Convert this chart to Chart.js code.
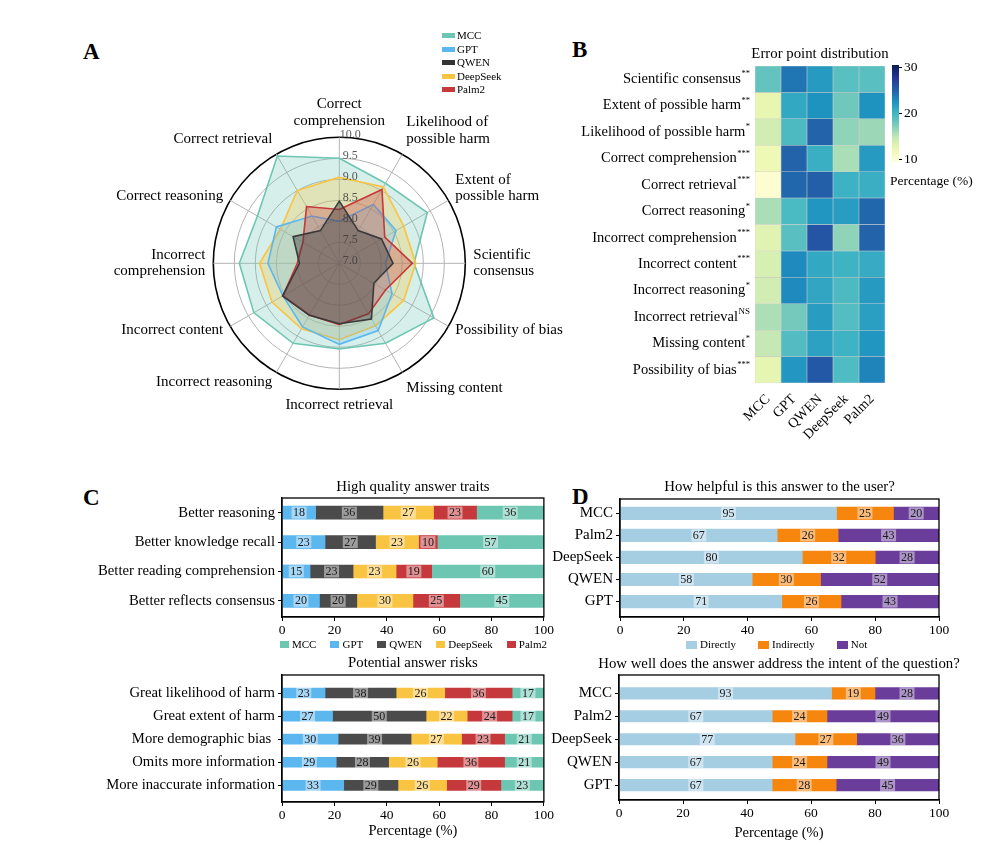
<!DOCTYPE html>
<html>
<head>
<meta charset="utf-8">
<script src="https://cdn.jsdelivr.net/npm/chart.js@4.4.1/dist/chart.umd.min.js"></script>
<style>
  body { margin: 0; background: #fff; }
  #fig { position: relative; width: 1000px; height: 858px; background: #fff; overflow: hidden;
         font-family: "Liberation Serif", "Times New Roman", serif; color: #000; }
  #fig canvas { position: absolute; }
  .panel { position: absolute; font-size: 23px; font-weight: bold; line-height: 1; }
  .legend { position: absolute; display: flex; align-items: center; font-size: 11px; line-height: 1; }
  .legend span.sw { display: inline-block; width: 9px; height: 7px; margin-right: 3px; }
  .legend .item { display: flex; align-items: center; }
  .rlegend { position: absolute; left: 442px; top: 29px; font-size: 11px; line-height: 13.5px; }
  .rlegend .item { display: flex; align-items: center; }
  .rlegend span.sw { display: inline-block; width: 13px; height: 5px; margin-right: 2px; }
</style>
</head>
<body>
<div id="fig">
  <div class="panel" style="left:83px;top:40px">A</div>
  <div class="panel" style="left:572px;top:38px">B</div>
  <div class="panel" style="left:83px;top:486px">C</div>
  <div class="panel" style="left:572px;top:485px">D</div>

  <canvas id="radar" width="560" height="360" style="left:50px;top:85px"></canvas>
  <div class="rlegend" id="radarLegend"></div>

  <canvas id="heat" width="315" height="400" style="left:575px;top:40px"></canvas>
  <canvas id="cbar" width="120" height="140" style="left:880px;top:55px"></canvas>

  <canvas id="traits" width="490" height="175" style="left:65px;top:470px"></canvas>
  <div class="legend" id="traitsLegend" style="left:280px;top:639px;gap:14px"></div>
  <canvas id="risks" width="490" height="195" style="left:65px;top:650px"></canvas>

  <canvas id="helpful" width="425" height="175" style="left:545px;top:470px"></canvas>
  <div class="legend" id="userLegend" style="left:686px;top:639px;gap:22px"></div>
  <canvas id="intent" width="425" height="195" style="left:545px;top:650px"></canvas>
</div>

<script>
const FONT = '"Liberation Serif", "Times New Roman", serif';

// ---- A: radar scores ----
const radarAxes = [
  ['Correct', 'comprehension'], ['Likelihood of', 'possible harm'], ['Extent of', 'possible harm'],
  ['Scientific', 'consensus'], 'Possibility of bias', 'Missing content', 'Incorrect retrieval',
  'Incorrect reasoning', 'Incorrect content', ['Incorrect', 'comprehension'], 'Correct reasoning', 'Correct retrieval'
];
const scoreMCC = [9.5, 9.2, 9.42, 8.78, 9.6, 9.2, 9.04, 9.2, 9.35, 9.38, 9.25, 9.95];
const scoreGPT = [8.0, 8.62, 8.56, 8.1, 8.45, 8.85, 8.93, 8.75, 8.55, 8.7, 8.73, 8.3];
const scoreQWEN = [8.48, 7.9, 8.16, 8.28, 7.95, 8.53, 8.44, 8.43, 8.56, 7.95, 8.27, 7.9];
const scoreDeepSeek = [9.05, 9.1, 8.77, 8.82, 8.77, 8.72, 8.82, 8.8, 8.85, 8.9, 8.62, 9.0];
const scorePalm2 = [8.28, 9.03, 8.25, 8.74, 8.27, 8.39, 8.46, 8.42, 8.55, 8.0, 8.0, 8.56];
const radarTicks = [7.0, 7.5, 8.0, 8.5, 9.0, 9.5, 10.0];

// ---- B: error point distribution (%) ----
const errRows = [
  'Scientific consensus', 'Extent of possible harm', 'Likelihood of possible harm', 'Correct comprehension',
  'Correct retrieval', 'Correct reasoning', 'Incorrect comprehension', 'Incorrect content',
  'Incorrect reasoning', 'Incorrect retrieval', 'Missing content', 'Possibility of bias'
];
const errSig = ['**', '**', '*', '***', '***', '*', '***', '***', '*', 'NS', '*', '***'];
const errModels = ['MCC', 'GPT', 'QWEN', 'DeepSeek', 'Palm2'];
const errMCC = [18.5, 12.5, 14, 11.8, 10, 15.8, 13, 13.7, 14, 15.7, 14.8, 12.7];
const errGPT = [24, 21, 19.5, 25, 24.8, 19.6, 19, 23, 23, 17.8, 19.3, 22.2];
const errQWEN = [22, 22.5, 25, 20.5, 25.2, 22.3, 25.8, 21, 21.2, 21.8, 21.5, 25.6];
const errDeepSeek = [19, 18, 16.8, 15.8, 20.3, 21.8, 16.8, 20.2, 19.5, 19.2, 20.2, 19.4];
const errPalm2 = [19, 22.5, 16.3, 22, 20.5, 24.8, 25, 20.8, 22, 21.6, 22.3, 23.3];
const errTicks = [10, 20, 30];

// ---- C: answer traits / risks (counts) ----
const traitCats = ['Better reasoning', 'Better knowledge recall', 'Better reading comprehension', 'Better reflects consensus'];
const traitGPT = [18, 23, 15, 20];
const traitQWEN = [36, 27, 23, 20];
const traitDeepSeek = [27, 23, 23, 30];
const traitPalm2 = [23, 10, 19, 25];
const traitMCC = [36, 57, 60, 45];

const riskCats = ['Great likelihood of harm', 'Great extent of harm', 'More demographic bias ', 'Omits more information', 'More inaccurate information'];
const riskGPT = [23, 27, 30, 29, 33];
const riskQWEN = [38, 50, 39, 28, 29];
const riskDeepSeek = [26, 22, 27, 26, 26];
const riskPalm2 = [36, 24, 23, 36, 29];
const riskMCC = [17, 17, 21, 21, 23];

// ---- D: user ratings (counts) ----
const userModels = ['MCC', 'Palm2', 'DeepSeek', 'QWEN', 'GPT'];
const helpDirect = [95, 67, 80, 58, 71];
const helpIndirect = [25, 26, 32, 30, 26];
const helpNot = [20, 43, 28, 52, 43];
const intentDirect = [93, 67, 77, 67, 67];
const intentIndirect = [19, 24, 27, 24, 28];
const intentNot = [28, 49, 36, 49, 45];

const COLORS = { MCC: '#6dc6b2', GPT: '#5db7ef', QWEN: '#4b4b4b', DeepSeek: '#f9c441', Palm2: '#c5383b' };
const USER_COLORS = { Directly: '#a6cee3', Indirectly: '#f7860f', Not: '#6a3d9a' };
const YLGNBU = [[0, '#ffffd9'], [0.125, '#edf8b1'], [0.25, '#c7e9b4'], [0.375, '#7fcdbb'], [0.5, '#41b6c4'],
  [0.625, '#1d91c0'], [0.75, '#225ea8'], [0.875, '#253494'], [1, '#081d58']];
const HEAT_MIN = 9.5;
const HEAT_MAX = 30.5;

Chart.defaults.font.family = FONT;
Chart.defaults.color = '#000';
Chart.defaults.animation = false;
Chart.defaults.responsive = false;
Chart.defaults.plugins.legend.display = false;
Chart.defaults.plugins.tooltip.enabled = false;

function hexRgb(hex) {
  const n = parseInt(hex.slice(1), 16);
  return [(n >> 16) & 255, (n >> 8) & 255, n & 255];
}

function ylgnbu(value) {
  const t = Math.min(1, Math.max(0, (value - HEAT_MIN) / (HEAT_MAX - HEAT_MIN)));
  for (let i = 1; i < YLGNBU.length; i++) {
    if (t <= YLGNBU[i][0]) {
      const [t0, c0] = YLGNBU[i - 1];
      const [t1, c1] = YLGNBU[i];
      const f = (t - t0) / (t1 - t0);
      const a = hexRgb(c0);
      const b = hexRgb(c1);
      return `rgb(${a.map((v, k) => Math.round(v + (b[k] - v) * f)).join(',')})`;
    }
  }
  return YLGNBU[YLGNBU.length - 1][1];
}

function rgba(hex, alpha) {
  return `rgba(${hexRgb(hex).join(',')},${alpha})`;
}

// ---- plugins ----
const framePlugin = {
  id: 'frame',
  afterDraw(chart) {
    const { ctx, chartArea: a } = chart;
    ctx.save();
    ctx.strokeStyle = '#000';
    ctx.lineWidth = 1.3;
    ctx.strokeRect(a.left, a.top, a.right - a.left, a.bottom - a.top);
    ctx.restore();
  }
};

const titlePlugin = {
  id: 'panelTitle',
  afterDraw(chart, args, opts) {
    if (!opts.text) return;
    const { ctx, chartArea: a } = chart;
    ctx.save();
    ctx.font = `${opts.size || 14.8}px ${FONT}`;
    ctx.fillStyle = '#000';
    ctx.textAlign = 'center';
    ctx.textBaseline = 'middle';
    ctx.fillText(opts.text, (a.left + a.right) / 2, a.top - (opts.offset || 11));
    ctx.restore();
  }
};

const barLabelPlugin = {
  id: 'barLabels',
  afterDatasetsDraw(chart) {
    const { ctx } = chart;
    ctx.save();
    ctx.font = `12px ${FONT}`;
    ctx.textAlign = 'center';
    ctx.textBaseline = 'middle';
    chart.data.datasets.forEach((ds, di) => {
      chart.getDatasetMeta(di).data.forEach((bar, i) => {
        const txt = String(ds.counts[i]);
        const cx = (bar.x + bar.base) / 2;
        const w = ctx.measureText(txt).width + 3;
        ctx.fillStyle = 'rgba(255,255,255,0.45)';
        ctx.fillRect(cx - w / 2, bar.y - 6, w, 12);
        ctx.fillStyle = '#1a1a1a';
        ctx.fillText(txt, cx, bar.y + 0.5);
      });
    });
    ctx.restore();
  }
};

function makeStack(id, cfg) {
  const totals = cfg.cats.map((_, i) => cfg.series.reduce((s, ser) => s + ser.counts[i], 0));
  return new Chart(document.getElementById(id), {
    type: 'bar',
    data: {
      datasets: cfg.series.map((ser) => ({
        label: ser.label,
        counts: ser.counts,
        data: ser.counts.map((c, i) => ({ x: c / totals[i] * 100, y: i })),
        backgroundColor: ser.color,
        borderWidth: 0,
        barThickness: cfg.thickness
      }))
    },
    options: {
      indexAxis: 'y',
      layout: { padding: cfg.padding },
      scales: {
        x: {
          type: 'linear', stacked: true, min: 0, max: 100,
          ticks: { stepSize: 20, font: { size: 13.5 }, color: '#000', padding: 1 },
          grid: { drawOnChartArea: false, tickLength: 4, color: '#000' },
          border: { color: '#000', width: 1.3 },
          title: { display: !!cfg.xTitle, text: cfg.xTitle, font: { size: 14.5 }, padding: { top: 0, bottom: cfg.xTitlePad || 4 } },
          afterFit: (s) => { s.height = cfg.xHeight; }
        },
        y: {
          type: 'linear', stacked: true, reverse: true, offset: false,
          min: cfg.yRange[0], max: cfg.yRange[1],
          afterBuildTicks: (s) => { s.ticks = cfg.cats.map((_, i) => ({ value: i })); },
          ticks: { callback: (v) => cfg.cats[v], font: { size: cfg.catSize }, color: '#000', padding: 3, autoSkip: false },
          grid: { drawOnChartArea: false, offset: false, tickLength: 4, color: '#000' },
          border: { color: '#000', width: 1.3 },
          afterFit: (s) => { s.width = cfg.yWidth; }
        }
      },
      plugins: { panelTitle: { text: cfg.title, offset: cfg.titleOffset } }
    },
    plugins: [framePlugin, titlePlugin, barLabelPlugin]
  });
}

// ---- A: radar ----
const radarCenter = { x: 289.3, y: 178.3, r: 126 };
const radarDecor = {
  id: 'radarDecor',
  afterDraw(chart) {
    const { ctx } = chart;
    const scale = chart.scales.r;
    ctx.save();
    // radial tick labels
    ctx.font = `12px ${FONT}`;
    ctx.fillStyle = 'rgba(60,60,60,0.85)';
    ctx.textAlign = 'center';
    ctx.textBaseline = 'middle';
    radarTicks.forEach((v) => {
      const d = scale.getDistanceFromCenterForValue(v);
      ctx.fillText(v.toFixed(1), scale.xCenter + 11, scale.yCenter - d - 2);
    });
    // axis labels
    ctx.font = `15px ${FONT}`;
    ctx.fillStyle = '#000';
    const lineH = 16.5;
    chart.data.labels.forEach((label, i) => {
      const lines = Array.isArray(label) ? label : [label];
      const p = scale.getPointPosition(i, scale.drawingArea + 8);
      const ang = scale.getIndexAngle(i);
      const s = Math.sin(ang);
      const c = Math.cos(ang);
      ctx.textAlign = Math.abs(s) < 0.05 ? 'center' : (s > 0 ? 'left' : 'right');
      const h = lines.length * lineH;
      let top;
      if (c > 0.8) top = p.y - h;
      else if (c < -0.8) top = p.y - (s < -0.05 ? 6 : 0);
      else top = p.y - h / 2 - (s > 0 && c > 0.3 ? 8 : 0);
      lines.forEach((ln, k) => {
        ctx.fillText(ln, p.x, top + lineH * (k + 0.5));
      });
    });
    ctx.restore();
  }
};

function radarSet(label, data, color, fillAlpha, order) {
  return {
    label, data, order,
    borderColor: color,
    backgroundColor: rgba(color, fillAlpha),
    borderWidth: 1.6,
    pointRadius: 0,
    fill: true
  };
}

new Chart(document.getElementById('radar'), {
  type: 'radar',
  data: {
    labels: radarAxes,
    datasets: [
      radarSet('MCC', scoreMCC, COLORS.MCC, 0.28, 5),
      radarSet('GPT', scoreGPT, COLORS.GPT, 0.25, 3),
      radarSet('QWEN', scoreQWEN, '#3a3a3a', 0.42, 1),
      radarSet('DeepSeek', scoreDeepSeek, COLORS.DeepSeek, 0.3, 4),
      radarSet('Palm2', scorePalm2, COLORS.Palm2, 0.3, 2)
    ]
  },
  options: {
    scales: {
      r: {
        min: 7, max: 10,
        ticks: { display: false, stepSize: 0.5 },
        pointLabels: { display: false },
        angleLines: { color: '#b3b3b3', lineWidth: 1 },
        grid: {
          circular: true,
          color: (ctx) => (ctx.tick && ctx.tick.value === 10 ? '#000' : '#b3b3b3'),
          lineWidth: (ctx) => (ctx.tick && ctx.tick.value === 10 ? 1.6 : 1)
        },
        afterFit: (s) => {
          s.xCenter = radarCenter.x;
          s.yCenter = radarCenter.y;
          s.drawingArea = radarCenter.r;
        }
      }
    }
  },
  plugins: [radarDecor]
});

document.getElementById('radarLegend').innerHTML = Object.keys(COLORS).map((name) =>
  `<div class="item"><span class="sw" style="background:${name === 'QWEN' ? '#333' : COLORS[name]}"></span>${name}</div>`
).join('');

// ---- B: heatmap ----
const errCols = [errMCC, errGPT, errQWEN, errDeepSeek, errPalm2];
const heatRowLabels = {
  id: 'heatRows',
  afterDraw(chart) {
    const { ctx, chartArea } = chart;
    const y = chart.scales.y;
    const right = chartArea.left - 5;
    ctx.save();
    ctx.fillStyle = '#000';
    ctx.textAlign = 'right';
    ctx.textBaseline = 'middle';
    errRows.forEach((row, i) => {
      const py = y.getPixelForValue(i + 0.5);
      const sig = errSig[i];
      ctx.font = `${sig === 'NS' ? 9 : 8.5}px ${FONT}`;
      const sw = ctx.measureText(sig).width;
      ctx.fillText(sig, right, py - 5);
      ctx.font = `14.5px ${FONT}`;
      ctx.fillText(row, right - sw - 0.5, py);
    });
    ctx.restore();
  }
};

new Chart(document.getElementById('heat'), {
  type: 'bar',
  data: {
    labels: errModels,
    datasets: errRows.map((row, i) => ({
      label: row,
      data: errModels.map(() => [i, i + 1]),
      backgroundColor: errCols.map((col) => ylgnbu(col[i])),
      borderColor: 'rgba(150,150,150,0.35)',
      borderWidth: 0.6,
      borderSkipped: false,
      grouped: false,
      barPercentage: 1,
      categoryPercentage: 1
    }))
  },
  options: {
    layout: { padding: { left: 0, right: 5, top: 26, bottom: 0 } },
    scales: {
      x: {
        ticks: { font: { size: 14 }, color: '#000', minRotation: 45, maxRotation: 45, autoSkip: false, padding: 0 },
        grid: { display: false },
        border: { display: false },
        afterFit: (s) => { s.height = 57; }
      },
      y: {
        type: 'linear', min: 0, max: 12, reverse: true,
        ticks: { display: false },
        grid: { display: false },
        border: { display: false },
        afterFit: (s) => { s.width = 180; }
      }
    },
    plugins: { panelTitle: { text: 'Error point distribution', offset: 12 } }
  },
  plugins: [titlePlugin, heatRowLabels]
});

// colour bar
const cbarTitle = {
  id: 'cbarTitle',
  afterDraw(chart) {
    const { ctx, chartArea } = chart;
    ctx.save();
    ctx.font = `13.5px ${FONT}`;
    ctx.fillStyle = '#000';
    ctx.textAlign = 'left';
    ctx.textBaseline = 'middle';
    ctx.fillText('Percentage (%)', chartArea.left - 2, chartArea.bottom + 19);
    ctx.restore();
  }
};

new Chart(document.getElementById('cbar'), {
  type: 'bar',
  data: {
    labels: [''],
    datasets: [{
      data: [[HEAT_MIN, HEAT_MAX]],
      barPercentage: 1,
      categoryPercentage: 1,
      backgroundColor: (ctx) => {
        const area = ctx.chart.chartArea;
        if (!area) return '#41b6c4';
        const g = ctx.chart.ctx.createLinearGradient(0, area.bottom, 0, area.top);
        YLGNBU.forEach(([t, c]) => g.addColorStop(t, c));
        return g;
      }
    }]
  },
  options: {
    layout: { padding: { left: 12, right: 71, top: 10, bottom: 33 } },
    scales: {
      x: { display: false },
      y: {
        position: 'right', min: HEAT_MIN, max: HEAT_MAX,
        afterBuildTicks: (s) => { s.ticks = errTicks.map((v) => ({ value: v })); },
        ticks: { font: { size: 13.5 }, color: '#000', padding: 2 },
        grid: { drawOnChartArea: false, tickLength: 3, color: '#000' },
        border: { display: false },
        afterFit: (s) => { s.width = 30; }
      }
    }
  },
  plugins: [cbarTitle]
});

// ---- C ----
makeStack('traits', {
  cats: traitCats,
  series: [
    { label: 'GPT', counts: traitGPT, color: COLORS.GPT },
    { label: 'QWEN', counts: traitQWEN, color: COLORS.QWEN },
    { label: 'DeepSeek', counts: traitDeepSeek, color: COLORS.DeepSeek },
    { label: 'Palm2', counts: traitPalm2, color: COLORS.Palm2 },
    { label: 'MCC', counts: traitMCC, color: COLORS.MCC }
  ],
  title: 'High quality answer traits', titleOffset: 11,
  padding: { left: 0, right: 11, top: 28, bottom: 0 },
  yWidth: 217, xHeight: 28, yRange: [-0.5, 3.55], thickness: 13, catSize: 14.7
});

makeStack('risks', {
  cats: riskCats,
  series: [
    { label: 'GPT', counts: riskGPT, color: COLORS.GPT },
    { label: 'QWEN', counts: riskQWEN, color: COLORS.QWEN },
    { label: 'DeepSeek', counts: riskDeepSeek, color: COLORS.DeepSeek },
    { label: 'Palm2', counts: riskPalm2, color: COLORS.Palm2 },
    { label: 'MCC', counts: riskMCC, color: COLORS.MCC }
  ],
  title: 'Potential answer risks', titleOffset: 12,
  padding: { left: 0, right: 11, top: 25, bottom: 0 },
  yWidth: 217, xHeight: 43, yRange: [-0.78, 4.72], thickness: 10, catSize: 14.7,
  xTitle: 'Percentage (%)', xTitlePad: 5
});

document.getElementById('traitsLegend').innerHTML = ['MCC', 'GPT', 'QWEN', 'DeepSeek', 'Palm2'].map((name) =>
  `<div class="item"><span class="sw" style="background:${COLORS[name]}"></span>${name}</div>`
).join('');

// ---- D ----
makeStack('helpful', {
  cats: userModels,
  series: [
    { label: 'Directly', counts: helpDirect, color: USER_COLORS.Directly },
    { label: 'Indirectly', counts: helpIndirect, color: USER_COLORS.Indirectly },
    { label: 'Not', counts: helpNot, color: USER_COLORS.Not }
  ],
  title: 'How helpful is this answer to the user?', titleOffset: 12,
  padding: { left: 0, right: 31, top: 29, bottom: 0 },
  yWidth: 75, xHeight: 28, yRange: [-0.65, 4.7], thickness: 12.5, catSize: 15
});

makeStack('intent', {
  cats: userModels,
  series: [
    { label: 'Directly', counts: intentDirect, color: USER_COLORS.Directly },
    { label: 'Indirectly', counts: intentIndirect, color: USER_COLORS.Indirectly },
    { label: 'Not', counts: intentNot, color: USER_COLORS.Not }
  ],
  title: 'How well does the answer address the intent of the question?', titleOffset: 11,
  padding: { left: 0, right: 31, top: 25, bottom: 0 },
  yWidth: 74, xHeight: 45, yRange: [-0.8, 4.65], thickness: 11.5, catSize: 15,
  xTitle: 'Percentage (%)', xTitlePad: 3
});

document.getElementById('userLegend').innerHTML = Object.keys(USER_COLORS).map((name) =>
  `<div class="item"><span class="sw" style="width:11px;height:8px;background:${USER_COLORS[name]}"></span>${name}</div>`
).join('');
</script>
</body>
</html>
